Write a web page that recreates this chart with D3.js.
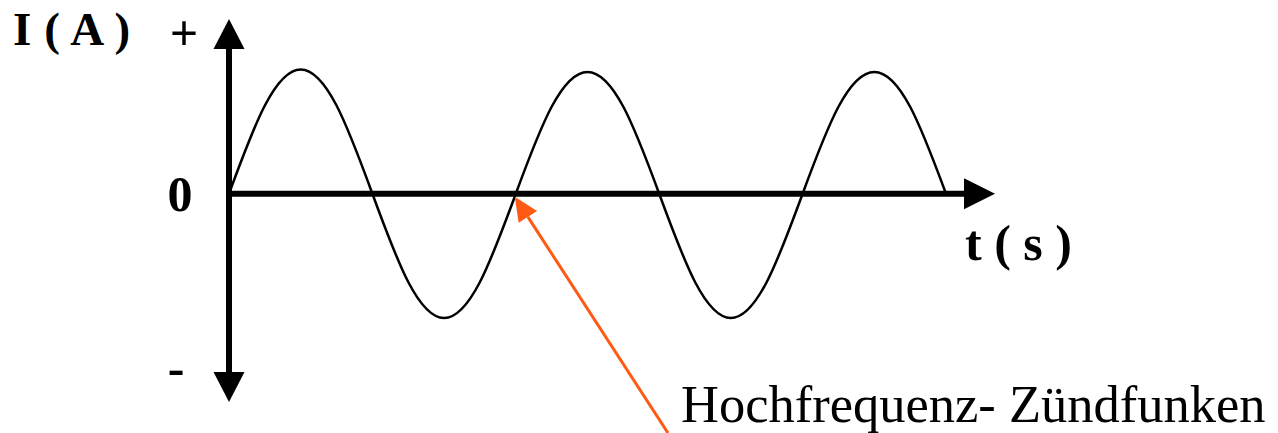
<!DOCTYPE html>
<html lang="de">
<head>
  <meta charset="UTF-8">
  <title>Hochfrequenz - D3</title>
  <script src="https://d3js.org/d3.v7.min.js"></script>
  <style>
    body { margin: 0; background: #fff; }
    .lbl { font-family: "Liberation Serif", "Times New Roman", serif; font-weight: bold; fill: #000; }
    .note { font-family: "Liberation Serif", "Times New Roman", serif; fill: #000; }
  </style>
</head>
<body>
<script>
  // Zeit in Viertelperioden, Strom relativ zur Amplitude
  var tValues = [0, 0.5, 1, 1.5, 2, 2.5, 3, 3.5, 4, 4.5, 5, 5.5, 6, 6.5, 7, 7.5, 8, 8.5, 9, 9.5, 10];
  var iValues = [0, 0.71, 1, 0.71, 0, -0.71, -1, -0.71, 0, 0.7, 0.98, 0.7, 0, -0.71, -1, -0.71, 0, 0.7, 0.98, 0.7, 0];
  var tickLabels = ["+", "0", "-"];
  var tickPos = [1.3, 0, -1.4];
  var yLabel = "I ( A )";
  var xLabel = "t ( s )";
  var note = "Hochfrequenz- Zündfunken";

  var W = 1278, H = 433;
  var x = d3.scaleLinear().domain([0, 10]).range([229, 946]);
  var y = d3.scaleLinear().domain([-1, 1]).range([318, 69.5]);

  var svg = d3.select("body").append("svg")
    .attr("width", W).attr("height", H);

  var tMax = x.invert(995), yTop = y.invert(19), yBot = y.invert(402);

  // Achsen
  svg.append("line")
    .attr("x1", x(0)).attr("x2", x(0))
    .attr("y1", y(yTop) + 20).attr("y2", y(yBot) - 20)
    .attr("stroke", "#000").attr("stroke-width", 6);
  svg.append("line")
    .attr("x1", x(0) - 3).attr("x2", x(tMax) - 20)
    .attr("y1", y(0)).attr("y2", y(0))
    .attr("stroke", "#000").attr("stroke-width", 6);

  // Pfeilspitzen
  var x0 = x(0), y0 = y(0);
  svg.append("path").attr("d", `M${x0},${y(yTop)}L${x0 - 15.5},${y(yTop) + 30}L${x0 + 15.5},${y(yTop) + 30}Z`);
  svg.append("path").attr("d", `M${x0},${y(yBot)}L${x0 - 15.5},${y(yBot) - 30}L${x0 + 15.5},${y(yBot) - 30}Z`);
  svg.append("path").attr("d", `M${x(tMax)},${y0}L${x(tMax) - 31},${y0 - 15.5}L${x(tMax) - 31},${y0 + 15.5}Z`);

  // Sinuskurve
  var pts = tValues.map((t, i) => [t, iValues[i]]);
  svg.append("path")
    .datum(pts)
    .attr("fill", "none")
    .attr("stroke", "#000")
    .attr("stroke-width", 2.5)
    .attr("d", d3.line().x(d => x(d[0])).y(d => y(d[1])).curve(d3.curveNatural));

  // Beschriftungen
  svg.selectAll(".tick")
    .data(tickLabels)
    .enter().append("text")
    .attr("class", "lbl")
    .attr("x", (d, i) => [184, 180, 176][i])
    .attr("y", (d, i) => y(tickPos[i]))
    .attr("dy", "0.35em")
    .attr("text-anchor", "middle")
    .style("font-size", "50px")
    .text(d => d);

  svg.append("text").attr("class", "lbl")
    .attr("x", 13).attr("y", 45)
    .style("font-size", "47px")
    .style("letter-spacing", "0.6px")
    .text(yLabel);

  svg.append("text").attr("class", "lbl")
    .attr("x", 965).attr("y", 260)
    .style("font-size", "50px")
    .text(xLabel);

  // Hinweis mit orangem Pfeil
  var tipX = x(4) - 1, tipY = y0 + 3;
  var sx = 668, sy = 433;
  var ang = Math.atan2(sy - tipY, sx - tipX);
  var hl = 24, hw = 11;
  var bx = tipX + hl * Math.cos(ang), by = tipY + hl * Math.sin(ang);
  svg.append("line")
    .attr("x1", sx).attr("y1", sy).attr("x2", bx).attr("y2", by)
    .attr("stroke", "#ff5a14").attr("stroke-width", 3);
  svg.append("path")
    .attr("fill", "#ff5a14")
    .attr("d", `M${tipX},${tipY}L${bx - hw * Math.sin(ang)},${by + hw * Math.cos(ang)}L${bx + hw * Math.sin(ang)},${by - hw * Math.cos(ang)}Z`);

  svg.append("text").attr("class", "note")
    .attr("x", 681).attr("y", 422)
    .style("font-size", "52.5px")
    .text(note);
</script>
</body>
</html>
